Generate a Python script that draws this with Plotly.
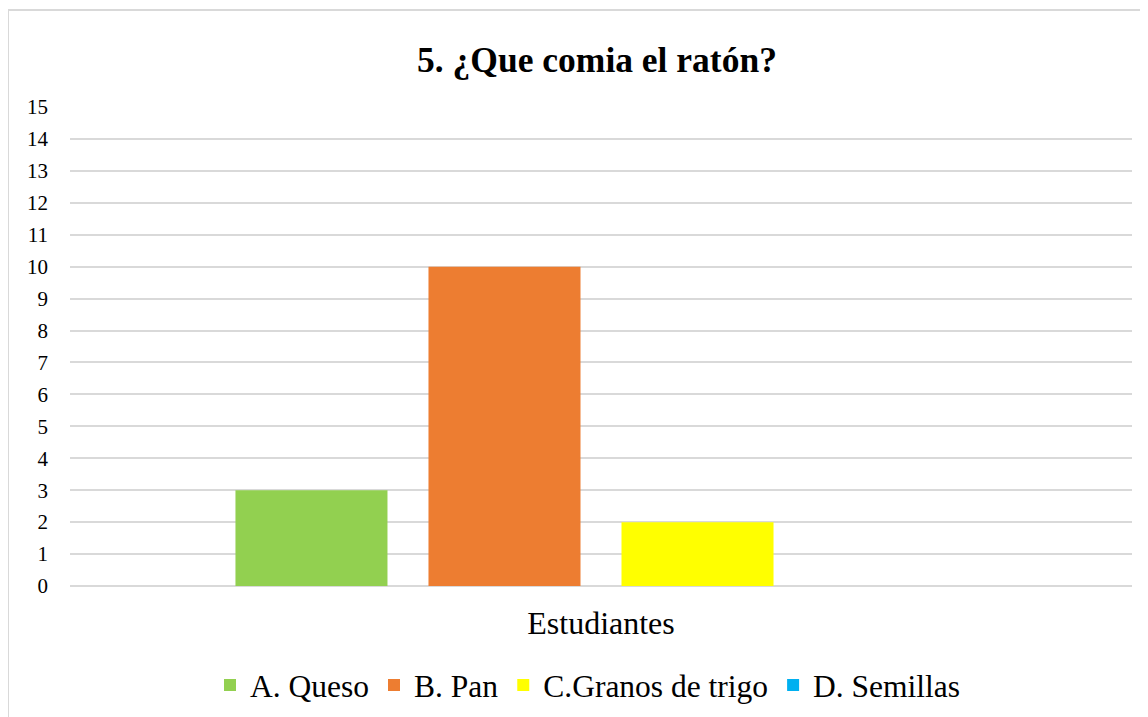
import plotly.graph_objects as go

categories = ["Estudiantes"]
series_names = ["A. Queso", "B. Pan", "C.Granos de trigo", "D. Semillas"]
series_values = [[3], [10], [2], [0]]
series_colors = ["#92D050", "#ED7D31", "#FFFF00", "#00B0F0"]
y_ticks = list(range(0, 16))

W, H = 1148, 717
ml, mr, mt, mb = 62, 24, 99, 139

fig = go.Figure()
for name, vals, col in zip(series_names, series_values, series_colors):
    fig.add_trace(go.Bar(x=categories, y=vals, name=name, marker=dict(color=col, line=dict(width=0))))

pw = W - ml - mr
ph = H - mt - mb
fig.update_layout(
    width=W, height=H,
    margin=dict(l=ml, r=mr, t=mt, b=mb),
    paper_bgcolor="white", plot_bgcolor="white",
    barmode="group", bargap=0.273, bargroupgap=0.2124,
    font=dict(family="Liberation Serif, Times New Roman, serif", color="black"),
    title=dict(text="<b>5. ¿Que comia el ratón?</b>", x=(597 - 8) / W, xanchor="center",
               y=1 - 52 / H, yanchor="middle", font=dict(size=35.5)),
    xaxis=dict(showgrid=False, showline=False, ticks="", tickfont=dict(size=32),
               ticklabelstandoff=15),
    yaxis=dict(range=[0, 15], tickvals=y_ticks, showgrid=True, gridcolor="#D9D9D9", gridwidth=1.5,
               zeroline=True, zerolinecolor="#D9D9D9", zerolinewidth=1.5,
               tickfont=dict(size=21), ticklabelstandoff=21, showline=False),
    legend=dict(orientation="h", x=(588 - 8 - ml) / pw, xanchor="center", y=-(677 - 578) / ph, yanchor="middle",
                font=dict(size=31.5), itemwidth=30, tracegroupgap=0),
    shapes=[
        dict(type="line", xref="paper", yref="paper",
             x0=(0 - ml) / pw, x1=(0 - ml) / pw, y0=1 + (mt - 2) / ph, y1=1 + (mt - H - 20) / ph,
             line=dict(color="#D9D9D9", width=2)),
        dict(type="line", xref="paper", yref="paper",
             x0=(0 - ml) / pw, x1=(W + 20 - ml) / pw, y0=1 + (mt - 2) / ph, y1=1 + (mt - 2) / ph,
             line=dict(color="#D9D9D9", width=2)),
    ],
)
fig.write_html("out.html")
